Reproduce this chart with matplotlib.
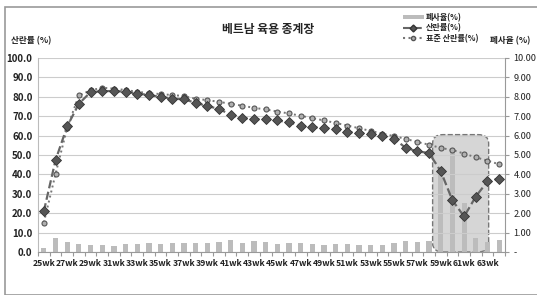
import matplotlib
matplotlib.use("Agg")
import matplotlib.pyplot as plt
from matplotlib.patches import FancyBboxPatch, Rectangle, Patch
from matplotlib.lines import Line2D
import numpy as np

plt.rcParams['font.family'] = ['Noto Sans CJK KR', 'DejaVu Sans']

# data
weeks = ['%dwk' % w for w in range(25, 65)]
lay_rate = [21.0, 47.3, 64.8, 76.4, 82.4, 82.9, 83.0, 82.6, 81.7, 80.9,
            80.0, 79.1, 78.7, 76.9, 75.2, 73.8, 70.7, 69.0, 68.5, 68.3,
            67.8, 66.9, 65.2, 64.3, 64.0, 63.3, 61.9, 61.4, 60.9, 59.7,
            58.5, 53.6, 51.9, 51.0, 41.6, 26.6, 18.3, 28.6, 36.4, 37.8]
std_rate = [15.2, 40.2, 64.0, 80.7, 83.3, 84.7, 84.2, 83.5, 82.6, 81.9,
            81.4, 80.9, 80.4, 79.0, 78.3, 77.4, 76.4, 75.4, 74.3, 73.5,
            72.4, 71.4, 70.2, 69.0, 67.8, 66.5, 65.2, 63.8, 62.4, 61.0,
            59.7, 58.3, 56.7, 55.3, 53.6, 52.6, 50.7, 48.8, 47.1, 45.2]
mortality = [0.19, 0.71, 0.52, 0.43, 0.36, 0.36, 0.33, 0.40, 0.40, 0.47,
             0.40, 0.46, 0.44, 0.48, 0.48, 0.53, 0.60, 0.46, 0.57, 0.50,
             0.43, 0.48, 0.48, 0.40, 0.38, 0.41, 0.41, 0.34, 0.35, 0.36,
             0.45, 0.57, 0.54, 0.58, 4.00, 5.19, 2.54, 0.71, 0.53, 0.62]
left_ticks = [0, 10, 20, 30, 40, 50, 60, 70, 80, 90, 100]
right_ticks = [0, 1, 2, 3, 4, 5, 6, 7, 8, 9, 10]
highlight_weeks = (58.3, 63.1)  # shaded region, in week units
highlight_top = 6.05  # right-axis units

x = np.arange(len(weeks))

fig = plt.figure(figsize=(5.37, 2.95), dpi=100)
fig.patches.append(Rectangle((5 / 537, 0), 1.0, 1 - 7 / 295, transform=fig.transFigure,
                             fill=False, edgecolor='#999999', linewidth=1.2))

ax = fig.add_axes([38 / 537, 1 - 252 / 295, (505 - 38) / 537, (252 - 58) / 295])
ax2 = ax.twinx()

# bars on the right axis
ax2.bar(x, mortality, width=0.45, color='#bcbcbc', zorder=2)
x0 = highlight_weeks[0] - 25
x1 = highlight_weeks[1] - 25
box = FancyBboxPatch((x0, 0), x1 - x0, highlight_top,
                     boxstyle='round,pad=0,rounding_size=0.9',
                     mutation_aspect=0.5,
                     facecolor='#d6d6d6', edgecolor='#777777', linestyle='--',
                     linewidth=1.0, zorder=1)
ax2.add_patch(box)
ax2.set_ylim(0, 10)
ax2.set_yticks(right_ticks)
ax2.set_yticklabels(['-'] + ['%.2f' % v for v in right_ticks[1:]])

# lines on the left axis, drawn above the bars
ax.set_zorder(ax2.get_zorder() + 1)
ax.patch.set_visible(False)
ax.plot(x, std_rate, linestyle=':', linewidth=1.4, color='#777777',
        marker='o', markersize=3.6, markerfacecolor='#b0b0b0', markeredgecolor='#555555',
        markeredgewidth=0.8, zorder=3)
ax.plot(x, lay_rate, linestyle='--', linewidth=1.6, color='#666666',
        marker='D', markersize=5, markerfacecolor='#555555', markeredgecolor='#333333',
        markeredgewidth=0.6, zorder=4)
ax.set_ylim(0, 100)
ax.set_yticks(left_ticks)
ax.set_yticklabels(['%.1f' % v for v in left_ticks])
ax.grid(axis='y', color='#cccccc', linewidth=0.8)
ax.set_xlim(-0.5, len(weeks) - 0.5)

# category ticks between bars, labels every second week
ax.set_xticks(np.arange(-0.5, len(weeks), 1.0))
ax.set_xticklabels([])
ax.set_xticks(x[::2], minor=True)
ax.set_xticklabels(weeks[::2], minor=True)
ax.tick_params(axis='x', which='major', length=3, color='#999999')
ax.tick_params(axis='x', which='minor', length=0, pad=5, labelsize=6.2)
ax.tick_params(axis='y', labelsize=7, length=0, pad=4)
for lab in ax.get_xticklabels(minor=True) + ax.get_yticklabels():
    lab.set_fontweight('bold')
    lab.set_color('#222222')
ax2.tick_params(axis='y', labelsize=6.6, length=3, color='#999999', pad=3)
for lab in ax2.get_yticklabels():
    lab.set_color('#222222')

for a in (ax, ax2):
    a.spines['top'].set_visible(False)
ax.spines['left'].set_color('#bbbbbb')
ax.spines['right'].set_visible(False)
ax.spines['bottom'].set_color('#999999')
ax2.spines['left'].set_visible(False)
ax2.spines['bottom'].set_visible(False)
ax2.spines['right'].set_color('#999999')

fig.text(268 / 537, 1 - 29 / 295, '베트남 육용 종계장', ha='center', va='center',
         fontsize=8.5, fontweight='bold', color='#222222')
fig.text(11 / 537, 1 - 41 / 295, '산란률 (%)', ha='left', va='center',
         fontsize=6.2, fontweight='bold', color='#222222')
fig.text(490 / 537, 1 - 41 / 295, '폐사율 (%)', ha='left', va='center',
         fontsize=6.2, fontweight='bold', color='#222222')

handles = [Patch(facecolor='#bcbcbc', edgecolor='none'),
           Line2D([], [], linestyle='--', color='#666666', marker='D', markersize=3.5,
                  markerfacecolor='#555555', markeredgecolor='#333333'),
           Line2D([], [], linestyle=':', color='#777777', marker='o', markersize=3,
                  markerfacecolor='#b0b0b0', markeredgecolor='#555555')]
labels = ['폐사율(%)', '산란률(%)', '표준 산란률(%)']
leg = fig.legend(handles, labels, loc='upper left',
                 bbox_to_anchor=(402 / 537, 1 - 12 / 295), frameon=False,
                 fontsize=5.8, handlelength=2.6, handleheight=0.5, labelspacing=0.2,
                 handletextpad=0.3, borderpad=0.1, borderaxespad=0)
for t in leg.get_texts():
    t.set_fontweight('bold')
    t.set_color('#222222')

fig.savefig('out.png', dpi=100)
